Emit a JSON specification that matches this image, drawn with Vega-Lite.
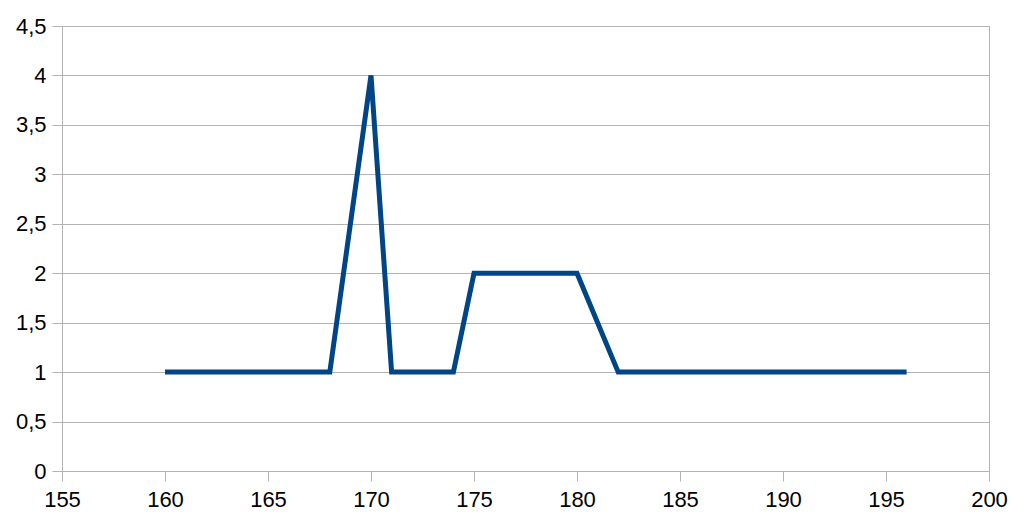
{
  "$schema": "https://vega.github.io/schema/vega-lite/v6.json",
  "width": 927,
  "height": 445,
  "autosize": "none",
  "padding": {"left": 62, "top": 26, "right": 22, "bottom": 43},
  "background": "white",
  "data": {
    "values": [
      {"x": 160, "y": 1},
      {"x": 167, "y": 1},
      {"x": 168, "y": 1},
      {"x": 170, "y": 4},
      {"x": 171, "y": 1},
      {"x": 172, "y": 1},
      {"x": 174, "y": 1},
      {"x": 175, "y": 2},
      {"x": 178, "y": 2},
      {"x": 180, "y": 2},
      {"x": 182, "y": 1},
      {"x": 184, "y": 1},
      {"x": 189, "y": 1},
      {"x": 196, "y": 1}
    ]
  },
  "mark": {"type": "line", "color": "#004586", "strokeWidth": 5, "strokeJoin": "miter"},
  "encoding": {
    "x": {
      "field": "x",
      "type": "quantitative",
      "scale": {"domain": [155, 200], "nice": false, "zero": false},
      "axis": {
        "title": null,
        "values": [155, 160, 165, 170, 175, 180, 185, 190, 195, 200],
        "grid": false,
        "labelPadding": 8,
        "labelFontSize": 22,
        "labelFont": "Liberation Sans"
      }
    },
    "y": {
      "field": "y",
      "type": "quantitative",
      "scale": {"domain": [0, 4.5], "nice": false},
      "axis": {
        "title": null,
        "values": [0, 0.5, 1, 1.5, 2, 2.5, 3, 3.5, 4, 4.5],
        "labelExpr": "replace(format(datum.value, '~g'), '.', ',')",
        "labelPadding": 6,
        "labelFontSize": 22,
        "labelFont": "Liberation Sans"
      }
    }
  },
  "config": {
    "view": {"stroke": "#b3b3b3", "strokeWidth": 1},
    "axis": {
      "domainColor": "#b3b3b3",
      "tickColor": "#b3b3b3",
      "gridColor": "#b3b3b3",
      "gridOpacity": 1,
      "tickSize": 10,
      "labelColor": "#000000",
      "labelFlush": false,
      "labelOverlap": false
    }
  }
}
